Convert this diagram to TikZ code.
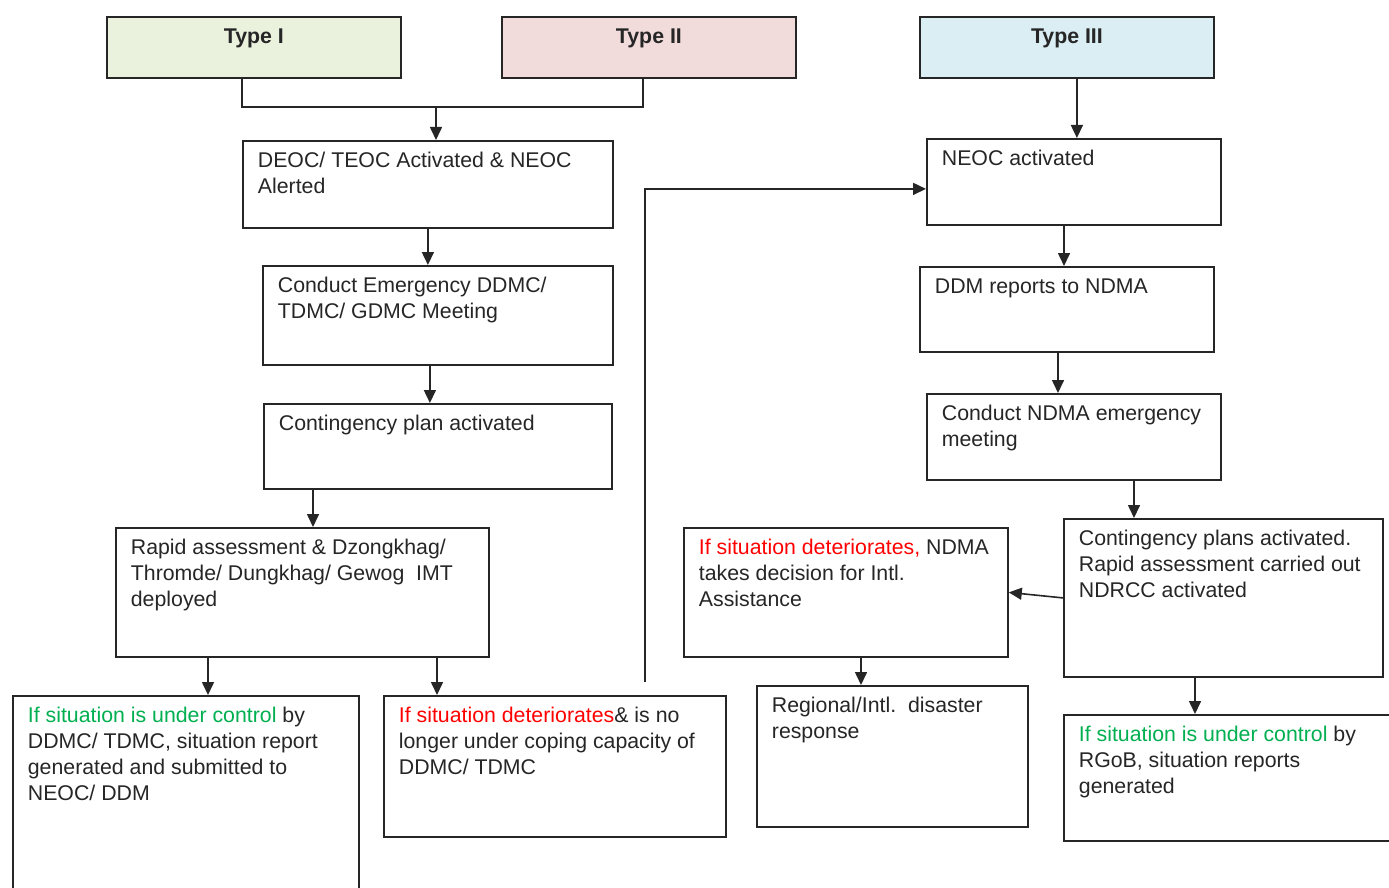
\documentclass[tikz,border=0pt]{standalone}
\usepackage{fontspec}
\setmainfont{Liberation Sans}
\usetikzlibrary{arrows.meta,calc,shadows}

\definecolor{typeone}{HTML}{EAF1DD}
\definecolor{typetwo}{HTML}{F2DCDB}
\definecolor{typethree}{HTML}{DBEEF3}
\definecolor{okgreen}{HTML}{00B050}
\definecolor{badred}{HTML}{FF0000}
\definecolor{ink}{HTML}{262626}

% text block inside a box: width, height, content (top-left aligned)
\newcommand{\boxtext}[3]{\parbox[t][#2pt][t]{#1pt}{\raggedright\leftskip=15pt\rule{0pt}{27pt}#3}}
% heading block: centred bold text near the top
\newcommand{\headtext}[3]{\parbox[t][#2pt][t]{#1pt}{\centering\bfseries\rule{0pt}{27pt}#3}}

\begin{document}
\begin{tikzpicture}[x=1pt,y=-1pt,
  every node/.style={font=\fontsize{21.3}{26}\selectfont, text=ink},
  box/.style={draw=ink, line width=1.8pt, inner sep=0pt, anchor=north west, fill=white},
  headbox/.style={box, drop shadow={shadow xshift=1.5pt, shadow yshift=-1.5pt, opacity=0.45, fill=black}},
  link/.style={draw=ink, line width=1.6pt},
  arr/.style={link, -{Triangle[length=13pt,width=12pt]}}]
\useasboundingbox (0,0) rectangle (1389,888);

% ---- headings
\node[headbox, fill=typeone]   (t1) at (106,16) {\headtext{294}{61}{Type I}};
\node[headbox, fill=typetwo]   (t2) at (501,16) {\headtext{294}{61}{Type II}};
\node[headbox, fill=typethree] (t3) at (919,16) {\headtext{294}{61}{Type III}};

% ---- Type I / II branch
\node[box] (deoc)  at (242,140) {\boxtext{370}{87}{DEOC/ TEOC Activated \& NEOC\\Alerted}};
\node[box] (meet)  at (262,265) {\boxtext{350}{99}{Conduct Emergency DDMC/\\TDMC/ GDMC Meeting}};
\node[box] (cont)  at (263,403) {\boxtext{348}{85}{Contingency plan activated}};
\node[box] (rapid) at (115,527) {\boxtext{373}{129}{Rapid assessment \& Dzongkhag/\\Thromde/ Dungkhag/ Gewog\ \ IMT\\deployed}};
\node[box] (ctrlL) at (12,695)  {\boxtext{346}{205}{\textcolor{okgreen}{If situation is under control} by\\DDMC/ TDMC, situation report\\generated and submitted to\\NEOC/ DDM}};
\node[box] (detL)  at (383,695) {\boxtext{342}{141}{\textcolor{badred}{If situation deteriorates}\& is no\\longer under coping capacity of\\DDMC/ TDMC}};

% ---- Type III branch
\node[box] (neoc)  at (926,138)  {\boxtext{294}{86}{NEOC activated}};
\node[box] (ddm)   at (919,266)  {\boxtext{294}{85}{DDM reports to NDMA}};
\node[box] (ndma)  at (926,393)  {\boxtext{294}{86}{Conduct NDMA emergency\\meeting}};
\node[box] (plans) at (1063,518) {\boxtext{319}{158}{Contingency plans activated.\\Rapid assessment carried out\\NDRCC activated}};
\node[box] (detR)  at (683,527)  {\boxtext{324}{129}{\textcolor{badred}{If situation deteriorates,} NDMA\\takes decision for Intl.\\Assistance}};
\node[box] (reg)   at (756,685)  {\boxtext{271}{141}{Regional/Intl.\ \ disaster\\response}};
\node[box] (ctrlR) at (1063,714) {\boxtext{340}{126}{\textcolor{okgreen}{If situation is under control} by\\RGoB, situation reports\\generated}};

% ---- connectors, Type I / II
\coordinate (join) at (436,107);
\draw[link] ($(t1.south west)+(136,0)$) |- (join) -| ($(t2.south west)+(142,0)$);
\draw[arr] (join) -- (join |- deoc.north);
\draw[arr] (deoc.south) -- (deoc.south |- meet.north);
\draw[arr] ($(meet.south)+(-8,0)$) -- ($(cont.north)+(-8,0)$);
\draw[arr] ($(cont.south west)+(50,0)$) -- ($(rapid.north west)+(198,0)$);
\draw[arr] ($(rapid.south west)+(93,0)$) -- ($(ctrlL.north west)+(196,0)$);
\draw[arr] ($(rapid.south west)+(322,0)$) -- ($(detL.north west)+(54,0)$);
\draw[arr] ($(detL.north west)+(262,-13)$) |- ($(neoc.west)+(0,7)$);

% ---- connectors, Type III
\draw[arr] ($(t3.south)+(10,0)$) -- ($(neoc.north)+(3,0)$);
\draw[arr] ($(neoc.south west)+(138,0)$) -- ($(ddm.north west)+(145,0)$);
\draw[arr] ($(ddm.south west)+(139,0)$) -- ($(ndma.north west)+(132,0)$);
\draw[arr] ($(ndma.south west)+(208,0)$) -- ($(plans.north west)+(71,0)$);
\draw[arr] (plans.west) -- (detR.east);
\draw[arr] ($(detR.south west)+(178,0)$) -- ($(reg.north west)+(105,0)$);
\draw[arr] ($(plans.south west)+(132,0)$) -- ($(ctrlR.north west)+(132,0)$);
\end{tikzpicture}
\end{document}
